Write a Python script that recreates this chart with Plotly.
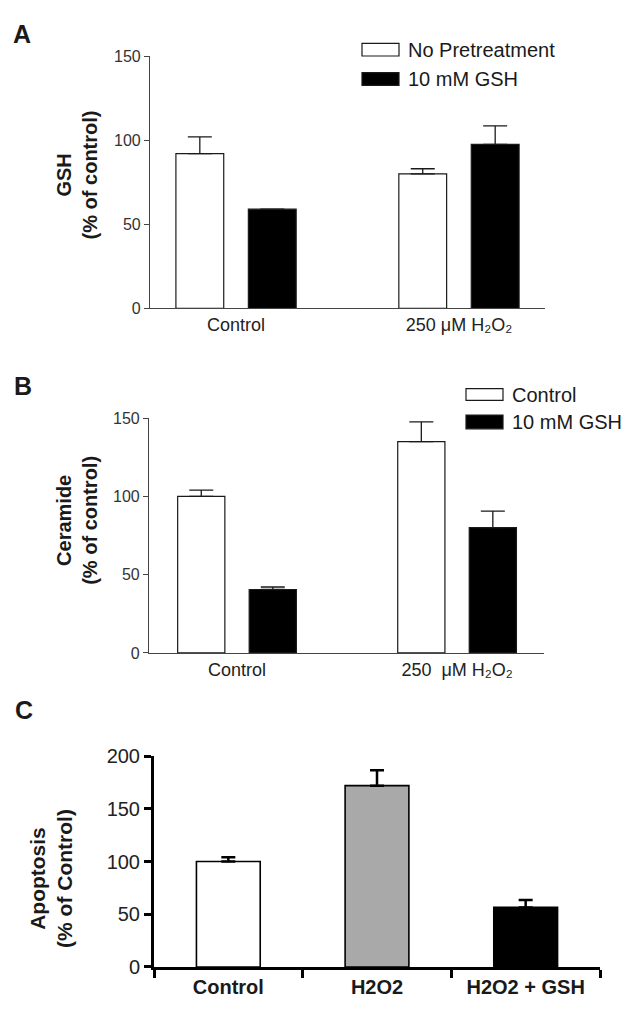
import plotly.graph_objects as go

W, H = 634, 1023

# ---------------- data ----------------
# Panel A: GSH
a_categories = ["Control", "250 uM H2O2"]
a_ticklabels = ["Control", "250 μM H₂O₂"]
a_series_names = ["No Pretreatment", "10 mM GSH"]
a_no_pretreatment = [92, 80]
a_no_pretreatment_err = [10, 3]
a_gsh = [59, 97.5]
a_gsh_err = [0, 11]
a_yticks = [0, 50, 100, 150]

# Panel B: Ceramide
b_categories = ["Control", "250 uM H2O2"]
b_ticklabels = ["Control", "250  μM H₂O₂"]
b_series_names = ["Control", "10 mM GSH"]
b_control = [100, 135]
b_control_err = [4, 12.5]
b_gsh = [40.5, 80]
b_gsh_err = [1.6, 10.5]
b_yticks = [0, 50, 100, 150]

# Panel C: Apoptosis
c_categories = ["Control", "H2O2", "H2O2 + GSH"]
c_values = [100, 172, 56.5]
c_err = [4, 14.5, 7]
c_yticks = [0, 50, 100, 150, 200]

FONT = "Arial, 'Liberation Sans', Helvetica, sans-serif"
INK = "#1a1a1a"


def px(x):
    return x / W


def py(y):
    return 1 - y / H


def zeros(n):
    return [0] * n


fig = go.Figure()

# ---------- Panel A ----------
fig.add_trace(go.Bar(
    x=a_categories, y=a_no_pretreatment, name=a_series_names[0],
    marker=dict(color="white", line=dict(color=INK, width=1.2)),
    error_y=dict(type="data", array=a_no_pretreatment_err, arrayminus=zeros(2),
                 symmetric=False, color=INK, thickness=1.3, width=12),
    xaxis="x", yaxis="y", showlegend=False))
fig.add_trace(go.Bar(
    x=a_categories, y=a_gsh, name=a_series_names[1],
    marker=dict(color="black", line=dict(color=INK, width=1.2)),
    error_y=dict(type="data", array=a_gsh_err, arrayminus=zeros(2),
                 symmetric=False, color=INK, thickness=1.3, width=12),
    xaxis="x", yaxis="y", showlegend=False))

# ---------- Panel B ----------
fig.add_trace(go.Bar(
    x=b_categories, y=b_control, name=b_series_names[0],
    marker=dict(color="white", line=dict(color=INK, width=1.2)),
    error_y=dict(type="data", array=b_control_err, arrayminus=zeros(2),
                 symmetric=False, color=INK, thickness=1.3, width=12),
    xaxis="x2", yaxis="y2", showlegend=False))
fig.add_trace(go.Bar(
    x=b_categories, y=b_gsh, name=b_series_names[1],
    marker=dict(color="black", line=dict(color=INK, width=1.2)),
    error_y=dict(type="data", array=b_gsh_err, arrayminus=zeros(2),
                 symmetric=False, color=INK, thickness=1.3, width=12),
    xaxis="x2", yaxis="y2", showlegend=False))

# ---------- Panel C ----------
fig.add_trace(go.Bar(
    x=c_categories, y=c_values, name="Apoptosis",
    marker=dict(color=["white", "#a9a9a9", "black"], line=dict(color="black", width=1.6)),
    error_y=dict(type="data", array=c_err, arrayminus=zeros(3),
                 symmetric=False, color="black", thickness=2.5, width=7),
    xaxis="x3", yaxis="y3", showlegend=False))

thin_y = dict(showline=True, linecolor="#444", linewidth=1.2, ticks="outside",
              ticklen=5, tickwidth=1.2, tickcolor="#444", showgrid=False,
              zeroline=False, tickfont=dict(family=FONT, size=16, color="#333"),
              tickmode="array")
thin_x = dict(showline=True, linecolor="#444", linewidth=1.2, ticks="",
              showgrid=False, zeroline=False, type="category",
              tickfont=dict(family=FONT, size=18, color="#222"), tickmode="array")

fig.update_layout(
    width=W, height=H,
    margin=dict(l=0, r=0, t=0, b=0),
    paper_bgcolor="white", plot_bgcolor="white",
    barmode="group", bargap=0.35, bargroupgap=0.34,
    showlegend=False,
    font=dict(family=FONT, color=INK),
    xaxis=dict(thin_x, domain=[px(150), px(545)], range=[-0.386, 1.386],
               tickvals=a_categories, ticktext=a_ticklabels, anchor="y"),
    yaxis=dict(thin_y, domain=[py(304), py(46)], range=[0, 150],
               tickvals=a_yticks, anchor="x"),
    xaxis2=dict(thin_x, domain=[px(149), px(544)], range=[-0.4, 1.395],
                tickvals=b_categories, ticktext=b_ticklabels, anchor="y2"),
    yaxis2=dict(thin_y, domain=[py(656), py(416)], range=[0, 150],
                tickvals=b_yticks, anchor="x2"),
    xaxis3=dict(showline=True, linecolor="black", linewidth=3, ticks="outside",
                tickson="boundaries", ticklen=8, tickwidth=3, tickcolor="black",
                showgrid=False, zeroline=False, type="category",
                tickfont=dict(family=FONT, size=20, color=INK, weight="bold"),
                domain=[px(154), px(600)], range=[-0.5, 2.5], anchor="y3"),
    yaxis3=dict(showline=True, linecolor="black", linewidth=3, ticks="outside",
                ticklen=7, tickwidth=3, tickcolor="black", showgrid=False,
                zeroline=False, tickmode="array", tickvals=c_yticks,
                tickfont=dict(family=FONT, size=20, color="#222"),
                domain=[py(977), py(761.5)], range=[0, 200], anchor="x3"),
)

annotations = []
shapes = []

# panel letters
for letter, (lx, ly) in zip(["A", "B", "C"], [(22, 24), (23, 383), (24, 714)]):
    annotations.append(dict(text="<b>%s</b>" % letter, x=px(lx), y=py(ly), xref="paper",
                            yref="paper", showarrow=False, xanchor="center", yanchor="middle",
                            font=dict(family=FONT, size=25, color=INK)))

# y-axis titles
for text, (tx, ty), size in [
    ("<b>GSH</b><br><b>(% of control)</b>", (77, 168), 20),
    ("<b>Ceramide</b><br><b>(% of control)</b>", (77, 521), 20),
    ("<b>Apoptosis</b><br><b>(% of Control)</b>", (51, 887), 21),
]:
    annotations.append(dict(text=text, x=px(tx), y=py(ty), xref="paper", yref="paper",
                            showarrow=False, textangle=-90, xanchor="center", yanchor="middle",
                            font=dict(family=FONT, size=size, color=INK)))

# legends (swatch + label)
legend_specs = [
    (a_series_names, 362, 399, [(33, 46), (63, 76)], 406),
    (b_series_names, 466, 503, [(386, 398), (413, 427)], 510),
]
for names, x0, x1, rows, tx in legend_specs:
    for name, (y0, y1), fill in zip(names, rows, ["white", "black"]):
        shapes.append(dict(type="rect", xref="paper", yref="paper",
                           x0=px(x0), x1=px(x1), y0=py(y1), y1=py(y0),
                           fillcolor=fill, line=dict(color=INK, width=1.2)))
        annotations.append(dict(text=name, x=px(tx), y=py((y0 + y1) / 2), xref="paper",
                                yref="paper", showarrow=False, xanchor="left",
                                yanchor="middle", font=dict(family=FONT, size=20, color=INK)))

fig.update_layout(annotations=annotations, shapes=shapes)
fig.write_html("out.html", config={"displayModeBar": False},
               post_script="document.body.style.margin='0';document.body.style.overflow='hidden';")
